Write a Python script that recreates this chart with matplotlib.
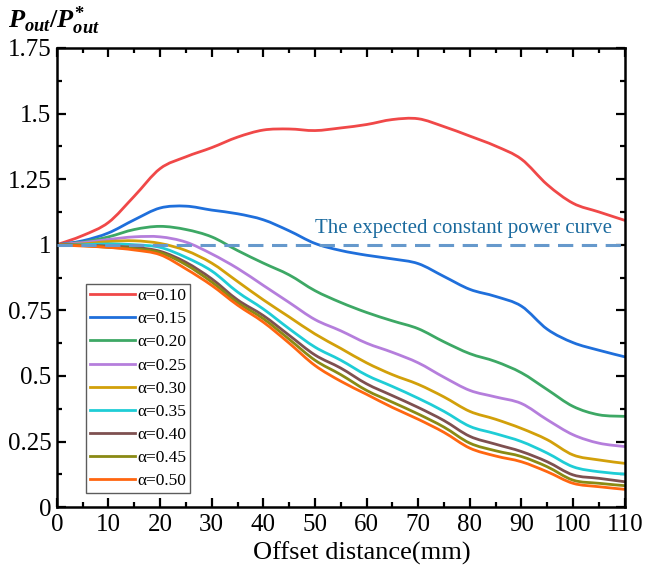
import matplotlib
matplotlib.use('Agg')
import matplotlib.pyplot as plt
from matplotlib.path import Path
from matplotlib.patches import PathPatch
from matplotlib.ticker import MultipleLocator

plt.rcParams['font.family'] = ['Liberation Serif', 'DejaVu Serif']
plt.rcParams['mathtext.fontset'] = 'custom'
plt.rcParams['mathtext.rm'] = 'Liberation Serif:bold'
plt.rcParams['mathtext.it'] = 'Liberation Serif:italic:bold'

# offset distance (mm)
offset = [0, 5, 10, 15, 20, 25, 30, 35, 40, 45, 50, 55, 60, 65, 70, 75, 80, 85, 90, 95, 100, 105, 110]

# normalised output power for each alpha
p010 = [1.0, 1.035, 1.085, 1.185, 1.29, 1.335, 1.37, 1.41, 1.437, 1.441, 1.435, 1.445, 1.458, 1.477, 1.48,
        1.45, 1.414, 1.376, 1.326, 1.229, 1.158, 1.125, 1.093]
p015 = [1.0, 1.015, 1.045, 1.095, 1.14, 1.147, 1.132, 1.118, 1.095, 1.053, 1.005, 0.978, 0.96, 0.946, 0.928,
        0.879, 0.83, 0.803, 0.766, 0.678, 0.627, 0.598, 0.573]
p020 = [1.0, 1.01, 1.03, 1.058, 1.07, 1.058, 1.03, 0.978, 0.93, 0.885, 0.825, 0.78, 0.742, 0.71, 0.68,
        0.63, 0.585, 0.555, 0.512, 0.448, 0.384, 0.352, 0.346]
p025 = [1.0, 1.008, 1.02, 1.03, 1.03, 1.01, 0.965, 0.91, 0.845, 0.78, 0.715, 0.672, 0.625, 0.59, 0.55,
        0.495, 0.445, 0.42, 0.395, 0.333, 0.276, 0.244, 0.231]
p030 = [1.0, 1.003, 1.012, 1.015, 1.005, 0.978, 0.93, 0.86, 0.79, 0.725, 0.66, 0.605, 0.55, 0.505, 0.468,
        0.42, 0.365, 0.335, 0.3, 0.257, 0.199, 0.18, 0.167]
p035 = [1.0, 1.0, 1.003, 1.0, 0.99, 0.952, 0.9, 0.82, 0.755, 0.68, 0.61, 0.56, 0.503, 0.46, 0.415,
        0.365, 0.308, 0.28, 0.25, 0.206, 0.154, 0.135, 0.126]
p040 = [1.0, 0.998, 0.995, 0.99, 0.975, 0.933, 0.87, 0.79, 0.73, 0.655, 0.58, 0.53, 0.47, 0.425, 0.38,
        0.33, 0.27, 0.24, 0.212, 0.173, 0.123, 0.11, 0.097]
p045 = [1.0, 0.997, 0.99, 0.985, 0.97, 0.924, 0.858, 0.78, 0.718, 0.64, 0.56, 0.505, 0.445, 0.4, 0.355,
        0.305, 0.244, 0.215, 0.193, 0.154, 0.103, 0.091, 0.082]
p050 = [1.0, 0.995, 0.99, 0.98, 0.962, 0.908, 0.845, 0.77, 0.705, 0.625, 0.54, 0.48, 0.43, 0.38, 0.335,
        0.285, 0.225, 0.195, 0.173, 0.135, 0.091, 0.078, 0.068]

labels = ['α=0.10', 'α=0.15', 'α=0.20', 'α=0.25', 'α=0.30', 'α=0.35', 'α=0.40', 'α=0.45', 'α=0.50']
colors = ['#F04848', '#1F6FDB', '#3DA865', '#B57EDC', '#D2A00A', '#1FCDD6', '#7E5050', '#8A8A14', '#FF6610']
series = [p010, p015, p020, p025, p030, p035, p040, p045, p050]

yticks = [0, 0.25, 0.5, 0.75, 1, 1.25, 1.5, 1.75]
ytick_labels = ['0', '0.25', '0.5', '0.75', '1', '1.25', '1.5', '1.75']


def smooth_path(x, y):
    # Catmull-Rom style bezier segments through the points
    n = len(x)
    verts = [(x[0], y[0])]
    codes = [Path.MOVETO]
    for i in range(n - 1):
        i0 = max(i - 1, 0)
        i3 = min(i + 2, n - 1)
        c1 = (x[i] + (x[i + 1] - x[i0]) / 6, y[i] + (y[i + 1] - y[i0]) / 6)
        c2 = (x[i + 1] - (x[i3] - x[i]) / 6, y[i + 1] - (y[i3] - y[i]) / 6)
        verts += [c1, c2, (x[i + 1], y[i + 1])]
        codes += [Path.CURVE4] * 3
    return Path(verts, codes)


fig = plt.figure(figsize=(6.46, 5.77), dpi=100)
ax = fig.add_axes([0.088, 0.121, 0.879, 0.796])

for y, lab, c in zip(series, labels, colors):
    ax.add_patch(PathPatch(smooth_path(offset, y), fill=False, edgecolor=c, lw=2,
                           capstyle='round', joinstyle='round', zorder=2))
    ax.plot([], [], color=c, lw=2, label=lab)

# reference constant power line
ax.plot([0, 110], [1, 1], linestyle=(0, (5, 2.8)), color='#6699CC', lw=2.2, zorder=3)
ax.text(50, 1.06, 'The expected constant power curve', color='#1A6A9E', fontsize=15,
        ha='left', va='center')

ax.set_xlim(0, 110)
ax.set_ylim(0, 1.75)
ax.set_xticks(range(0, 111, 10))
ax.xaxis.set_minor_locator(MultipleLocator(5))
ax.set_yticks(yticks)
ax.set_yticklabels(ytick_labels)
ax.yaxis.set_minor_locator(MultipleLocator(0.125))
ax.tick_params(which='both', direction='in', top=True, right=True, width=1.6, labelsize=18)
ax.tick_params(which='major', length=6.5)
ax.tick_params(which='minor', length=3.5)
ax.tick_params(axis='x', pad=5)
ax.tick_params(axis='y', pad=4)
for s in ax.spines.values():
    s.set_linewidth(1.8)

ax.set_xlabel('Offset distance(mm)', fontsize=19, labelpad=4)
ax.xaxis.set_label_coords(0.537, -0.075)
fig.text(0.012, 0.952, r'$P_{out}/P^{*}_{out}$', fontsize=19, ha='left', va='baseline')

leg = ax.legend(loc='lower left', bbox_to_anchor=(0.051, 0.03), fontsize=12.5, frameon=True,
                fancybox=False, edgecolor='#333333', handlelength=2.6, handletextpad=0.1,
                labelspacing=0.4, borderpad=0.25, borderaxespad=0)
leg.get_frame().set_linewidth(1.0)

fig.savefig('out.png', dpi=100)
